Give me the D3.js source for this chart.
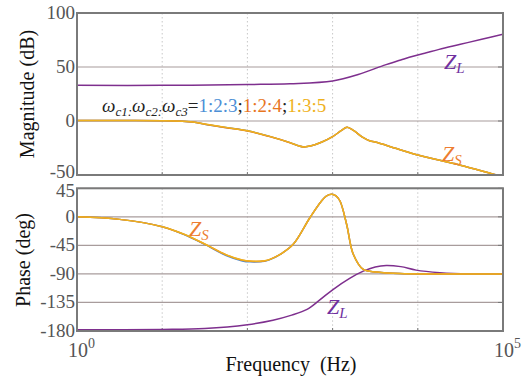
<!DOCTYPE html>
<html>
<head>
<meta charset="utf-8">
<script src="https://cdn.jsdelivr.net/npm/d3@7"></script>
<style>
  body { margin: 0; background: #fff; }
</style>
</head>
<body>
<div id="chart"></div>
<script>
// frequency points as log10(Hz)
let magFreq = [0, 0.5, 1.0, 1.36, 1.5, 1.75, 2.0, 2.25, 2.5, 2.6, 2.66, 2.75, 2.875, 3.0, 3.1, 3.17, 3.25, 3.35, 3.44, 3.5, 3.75, 4.0, 4.5, 4.9, 5.0];
let magZs123 = [0.5, 0.5, 0.3, -1, -3, -6, -9, -14, -20, -23, -24, -23, -19.5, -14.5, -9, -5.8, -9, -15, -18.5, -19.5, -25.5, -31.5, -41, -49.5, -51.5];
let magZs124 = [0.5, 0.5, 0.3, -1, -3, -6.2, -9.2, -14.2, -20.1, -23, -24, -23, -19.5, -14.5, -9, -5.8, -9, -15, -18.5, -19.5, -25.5, -31.5, -41, -49.5, -51.5];
let magZs135 = [0.5, 0.5, 0.3, -0.9, -2.8, -5.9, -9, -14, -20, -23, -24, -23, -19.5, -14.5, -9, -5.8, -9, -15, -18.5, -19.5, -25.5, -31.5, -41, -49.5, -51.5];

let magZlFreq = [0, 1, 2, 2.5, 3, 3.3, 3.6, 3.8, 3.9, 4.0, 4.1, 4.25, 4.5, 4.75, 5];
let magZl = [33, 33, 33.8, 34.5, 37, 43, 51.5, 56.5, 59, 61.2, 63.2, 66.3, 71, 75.7, 80.3];

let phFreq = [0, 0.5, 1, 1.25, 1.5, 1.75, 1.94, 2.03, 2.2, 2.265, 2.4, 2.54, 2.735, 2.87, 2.93, 2.99, 3.04, 3.087, 3.165, 3.243, 3.36, 3.52, 3.79, 4.2, 5];
let phZs123 = [0, -4, -15.5, -27.5, -43.5, -61, -69.5, -71, -70, -67.5, -58, -43, -1, 25, 33, 35.5, 33, 25, -12, -59, -83, -87, -89.5, -90, -90];
let phZs124 = [0, -4, -15.5, -27.2, -43, -60, -68.5, -70, -69.5, -67, -58, -43, -1, 25, 33, 35.5, 33, 25, -12, -59, -83, -87, -89.5, -90, -90];
let phZs135 = [0, -4, -15.5, -27, -42.8, -59.8, -68.2, -69.8, -69.2, -67, -58, -43, -1, 25, 33, 35.5, 33, 25, -12, -59, -83, -87, -89.5, -90, -90];

let phZlFreq = [0, 1, 1.5, 2.0, 2.3, 2.52, 2.7, 2.85, 3.0, 3.2, 3.36, 3.5, 3.63, 3.8, 3.98, 4.26, 4.6, 5];
let phZl = [-178, -177.5, -176, -170, -163, -155, -146, -131, -115, -97, -85.6, -79, -76.6, -78.5, -84, -88, -90, -90];

let magTicks = [100, 50, 0, -50];
let phTicks = [45, 0, -45, -90, -135, -180];
let decades = [1, 10, 100, 1000, 10000, 100000];

let colors = { c123: "#4d8fd6", c124: "#e8761f", c135: "#efb21e", zl: "#7e2f8e" };
let serif = "'Liberation Serif', 'Times New Roman', 'DejaVu Serif', serif";

let svg = d3.select("#chart").append("svg")
    .attr("width", 522)
    .attr("height", 379)
    .style("font-family", serif);

let x = d3.scaleLog().domain([1, 1e5]).range([77, 503]);
let yMag = d3.scaleLinear().domain([-50, 100]).range([175, 13]);
let yPh = d3.scaleLinear().domain([-180, 45]).range([331, 188.3]);

function panel(y, ticks, top, bottom, clipId, nudge) {
    let g = svg.append("g");
    // vertical dotted grid
    g.selectAll(".vg").data(decades.slice(1, -1)).enter().append("line")
        .attr("x1", d => x(d)).attr("x2", d => x(d))
        .attr("y1", top).attr("y2", bottom)
        .attr("stroke", "#c8c8c8").attr("stroke-width", 1)
        .attr("stroke-dasharray", "1.5,2.5");
    // horizontal grid
    g.selectAll(".hg").data(ticks).enter().append("line")
        .attr("x1", 77).attr("x2", 503)
        .attr("y1", d => y(d)).attr("y2", d => y(d))
        .attr("stroke", "#a89c9c").attr("stroke-width", 1.2);
    // tick labels
    g.selectAll(".tl").data(ticks).enter().append("text")
        .attr("x", 75).attr("y", d => y(d) + 6 + (nudge[d] || 0))
        .attr("text-anchor", "end")
        .attr("font-size", 19)
        .attr("fill", "#555")
        .text(d => d);
    // small ticks on frame
    g.selectAll(".tk").data(ticks).enter().append("line")
        .attr("x1", 498).attr("x2", 503)
        .attr("y1", d => y(d)).attr("y2", d => y(d))
        .attr("stroke", "#777");
    g.selectAll(".tb").data(decades.slice(1, -1)).enter().append("line")
        .attr("x1", d => x(d)).attr("x2", d => x(d))
        .attr("y1", bottom - 3).attr("y2", bottom)
        .attr("stroke", "#777");
    svg.append("clipPath").attr("id", clipId)
        .append("rect").attr("x", 77).attr("y", top).attr("width", 426).attr("height", bottom - top);
    return g;
}

let gMag = panel(yMag, magTicks, 13, 175, "clipMag", { "-50": -3 });
let gPh = panel(yPh, phTicks, 188.3, 331, "clipPh", { "45": 3 });

function drawLine(freq, vals, y, color, clipId) {
    let pts = freq.map((f, i) => [Math.pow(10, f), vals[i]]);
    svg.append("path")
        .datum(pts)
        .attr("clip-path", "url(#" + clipId + ")")
        .attr("fill", "none")
        .attr("stroke", color)
        .attr("stroke-width", 1.5)
        .attr("d", d3.line().x(d => x(d[0])).y(d => y(d[1])).curve(d3.curveCatmullRom.alpha(0.5)));
}

drawLine(magZlFreq, magZl, yMag, colors.zl, "clipMag");
drawLine(magFreq, magZs123, yMag, colors.c123, "clipMag");
drawLine(magFreq, magZs124, yMag, colors.c124, "clipMag");
drawLine(magFreq, magZs135, yMag, colors.c135, "clipMag");

drawLine(phZlFreq, phZl, yPh, colors.zl, "clipPh");
drawLine(phFreq, phZs123, yPh, colors.c123, "clipPh");
drawLine(phFreq, phZs124, yPh, colors.c124, "clipPh");
drawLine(phFreq, phZs135, yPh, colors.c135, "clipPh");

// frames
[[13, 175], [188.3, 331]].forEach(function (b) {
    svg.append("rect")
        .attr("x", 77).attr("y", b[0])
        .attr("width", 426).attr("height", b[1] - b[0])
        .attr("fill", "none").attr("stroke", "#7a7a7a").attr("stroke-width", 2);
});

// axis labels
svg.append("text")
    .attr("transform", "translate(34,94) rotate(-90)")
    .attr("text-anchor", "middle").attr("font-size", 20).attr("fill", "#111")
    .text("Magnitude (dB)");
svg.append("text")
    .attr("transform", "translate(30,260) rotate(-90)")
    .attr("text-anchor", "middle").attr("font-size", 20).attr("fill", "#111")
    .text("Phase (deg)");
svg.append("text")
    .attr("x", 291).attr("y", 371)
    .attr("text-anchor", "middle").attr("font-size", 20).attr("fill", "#111")
    .attr("xml:space", "preserve")
    .text("Frequency  (Hz)");

// x tick labels 10^0, 10^5
[[1, 0], [1e5, 5]].forEach(function (d) {
    let t = svg.append("text")
        .attr("x", x(d[0]) - 9).attr("y", 357)
        .attr("font-size", 20).attr("fill", "#555");
    t.append("tspan").text("10");
    t.append("tspan").attr("dy", -9).attr("font-size", 14).text(d[1]);
});

// ratio annotation
let ann = svg.append("text")
    .attr("x", 102).attr("y", 112)
    .attr("font-size", 19).attr("fill", "#222");
[["c1", ":"], ["c2", ":"], ["c3", ""]].forEach(function (p, i) {
    ann.append("tspan").attr("font-style", "italic").attr("dy", i ? -4 : 0).text("ω");
    ann.append("tspan").attr("font-style", "italic").attr("font-size", 13).attr("dy", 4).text(p[0] + p[1]);
});
ann.append("tspan").attr("dy", -4).text("=");
ann.append("tspan").attr("fill", colors.c123).text("1:2:3");
ann.append("tspan").text(";");
ann.append("tspan").attr("fill", colors.c124).text("1:2:4");
ann.append("tspan").text(";");
ann.append("tspan").attr("fill", colors.c135).text("1:3:5");

// curve labels
function zLabel(px, py, sub, color) {
    let t = svg.append("text")
        .attr("x", px).attr("y", py)
        .attr("font-size", 22).attr("font-style", "italic").attr("fill", color);
    t.append("tspan").text("Z");
    t.append("tspan").attr("font-size", 15).attr("dy", 4).text(sub);
}
zLabel(444, 69, "L", "#7030a0");
zLabel(442, 161, "S", "#ed7d31");
zLabel(189, 236, "S", "#ed7d31");
zLabel(327, 314, "L", "#7030a0");
</script>
</body>
</html>
